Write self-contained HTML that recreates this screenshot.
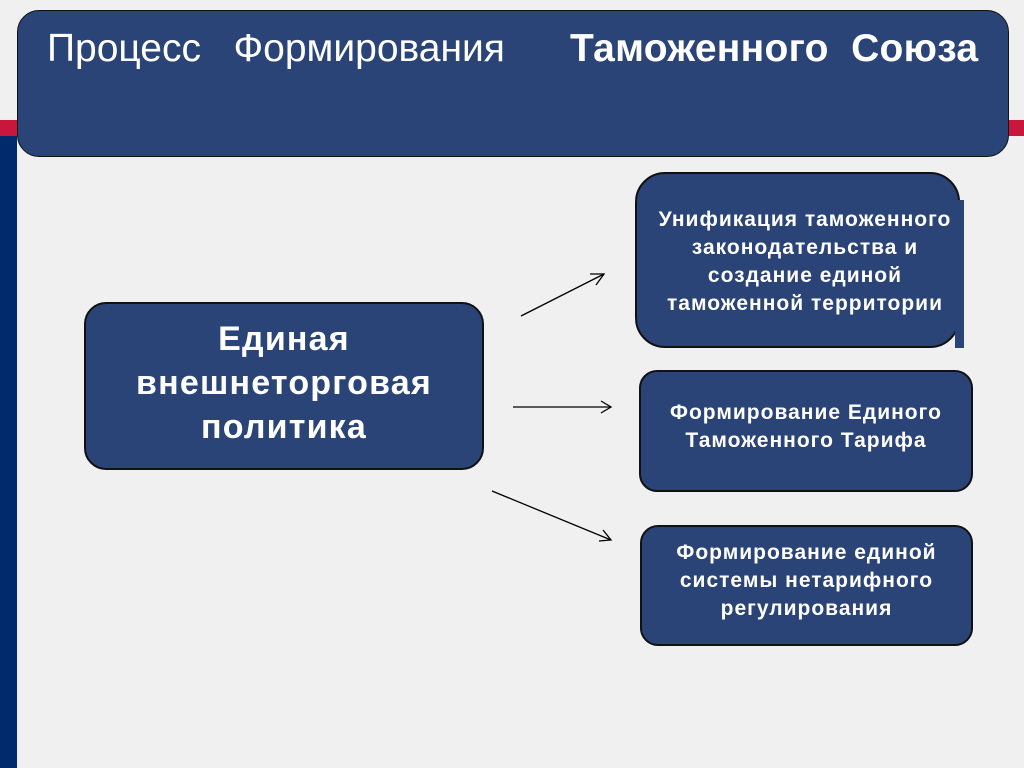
<!DOCTYPE html>
<html><head><meta charset="utf-8"><style>
body{margin:0;width:1024px;height:768px;background:#f0f0f0;position:relative;overflow:hidden;font-family:"Liberation Sans",sans-serif}
div{position:absolute;box-sizing:border-box}
.b{background:#2a4477;border:2px solid #111;color:#fff;font-weight:bold;text-align:center;display:flex;align-items:center;justify-content:center;white-space:nowrap}
.s{font-size:21px;letter-spacing:1px;line-height:28px}
</style></head><body>
<div style="left:0;top:120px;width:17px;height:16px;background:#c8163c"></div>
<div style="left:0;top:136px;width:17px;height:632px;background:#002a6b"></div>
<div style="left:1007px;top:120px;width:17px;height:16px;background:#c8163c"></div>
<div style="left:17px;top:10px;width:992px;height:147px;background:#2a4477;border:1.5px solid #111;border-radius:22px"></div>
<div style="left:47px;top:27px;color:#fff;font-size:39px;white-space:pre">Процесс   Формирования</div>
<div style="left:570px;top:27px;color:#fff;font-size:39px;font-weight:bold;white-space:pre;letter-spacing:0.3px">Таможенного  Союза</div>
<div class="b" style="left:84px;top:302px;width:400px;height:168px;border-radius:22px;font-size:34px;letter-spacing:1.2px;line-height:44px;padding-bottom:6px">Единая<br>внешнеторговая<br>политика</div>
<div class="b s" style="left:635px;top:172px;width:325px;height:176px;border-radius:30px;padding-top:4px;padding-left:15px">Унификация таможенного<br>законодательства и<br>создание единой<br>таможенной территории</div>
<div style="left:955px;top:200px;width:9px;height:148px;background:#2a4477"></div>
<div class="b s" style="left:639px;top:370px;width:334px;height:122px;border-radius:18px;padding-bottom:8px">Формирование Единого<br>Таможенного Тарифа</div>
<div class="b s" style="left:640px;top:525px;width:333px;height:121px;border-radius:18px;padding-bottom:10px">Формирование единой<br>системы нетарифного<br>регулирования</div>
<svg width="1024" height="768" style="position:absolute;left:0;top:0">
<g stroke="#000" stroke-width="1.3" fill="none">
<line x1="521" y1="316" x2="604" y2="274"/><polyline points="590,274 604,274 596,285"/>
<line x1="513" y1="407" x2="611" y2="407"/><polyline points="601,401 611,407 601,413"/>
<line x1="492" y1="491" x2="611" y2="540"/><polyline points="603,530 611,540 599,541"/>
</g></svg>
</body></html>
